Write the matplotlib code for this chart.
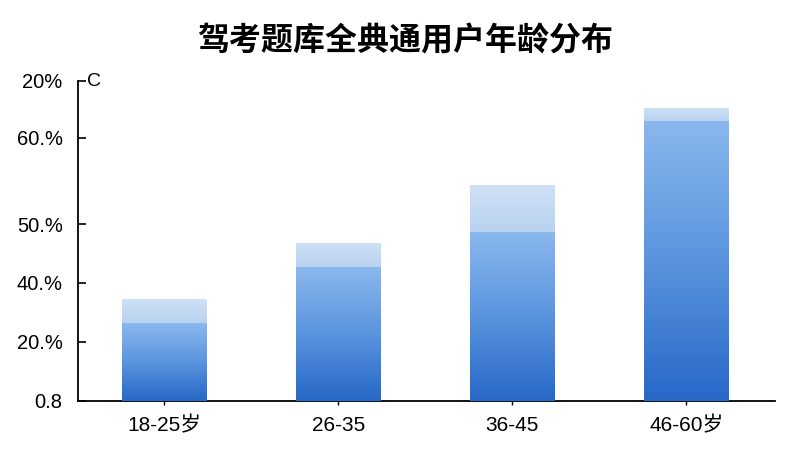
import numpy as np
import matplotlib
matplotlib.use("Agg")
import matplotlib.pyplot as plt
from matplotlib.colors import LinearSegmentedColormap

plt.rcParams['font.family'] = ['Liberation Sans', 'Noto Sans CJK SC', 'DejaVu Sans']

# data (units follow the odd tick scale of the original chart)
groups = ["18-25岁", "26-35", "36-45", "46-60岁"]
main_vals = [26.4, 45.4, 57.3, 94.9]
top_vals = [34.2, 53.2, 72.9, 99.0]
ytick_pos = [0, 20, 40, 60, 89.2, 108.5]
ytick_labels = ["0.8", "20.%", "40.%", "50.%", "60.%", "20%"]
title = "驾考题库全典通用户年龄分布"

fig = plt.figure(figsize=(8, 4.5), dpi=100)
ax = fig.add_axes([0.0975, 0.109, 0.8715, 0.711])

x = np.arange(len(groups))
width = 0.485

grad = LinearSegmentedColormap.from_list("g", ["#2768c8", "#5a94de", "#8ab8ee"])
cap = LinearSegmentedColormap.from_list("c", ["#b8d2f0", "#cfe1f6"])
col = np.linspace(0, 1, 256).reshape(-1, 1)

for xi, m, t in zip(x, main_vals, top_vals):
    # light cap
    ax.imshow(col, cmap=cap, origin="lower", aspect="auto",
              extent=[xi - width / 2, xi + width / 2, m, t], zorder=2)
    # gradient body
    ax.imshow(col, cmap=grad, origin="lower", aspect="auto",
              extent=[xi - width / 2, xi + width / 2, 0, m], zorder=3)

ax.set_xlim(-0.496, len(groups) - 0.5 + 0.01)
ax.set_ylim(0, 108.5)

ax.set_xticks(x)
ax.set_xticklabels(groups, fontsize=15)
ax.set_yticks(ytick_pos)
ax.set_yticklabels(ytick_labels, fontsize=14.5)
ax.tick_params(axis="y", direction="in", length=6, width=1.2, pad=11)
ax.tick_params(axis="x", direction="out", length=3, width=1.0, pad=8)

for s in ["top", "right"]:
    ax.spines[s].set_visible(False)
ax.spines["left"].set_linewidth(1.3)
ax.spines["bottom"].set_linewidth(1.3)

ax.text(0.013, 1.0, "C", transform=ax.transAxes, fontsize=14,
        ha="left", va="center")

fig.text(0.507, 0.907, title, ha="center", va="center", fontsize=23,
         fontweight="bold", family=['Noto Sans CJK SC', 'DejaVu Sans'])

fig.savefig("out.png", dpi=100)
